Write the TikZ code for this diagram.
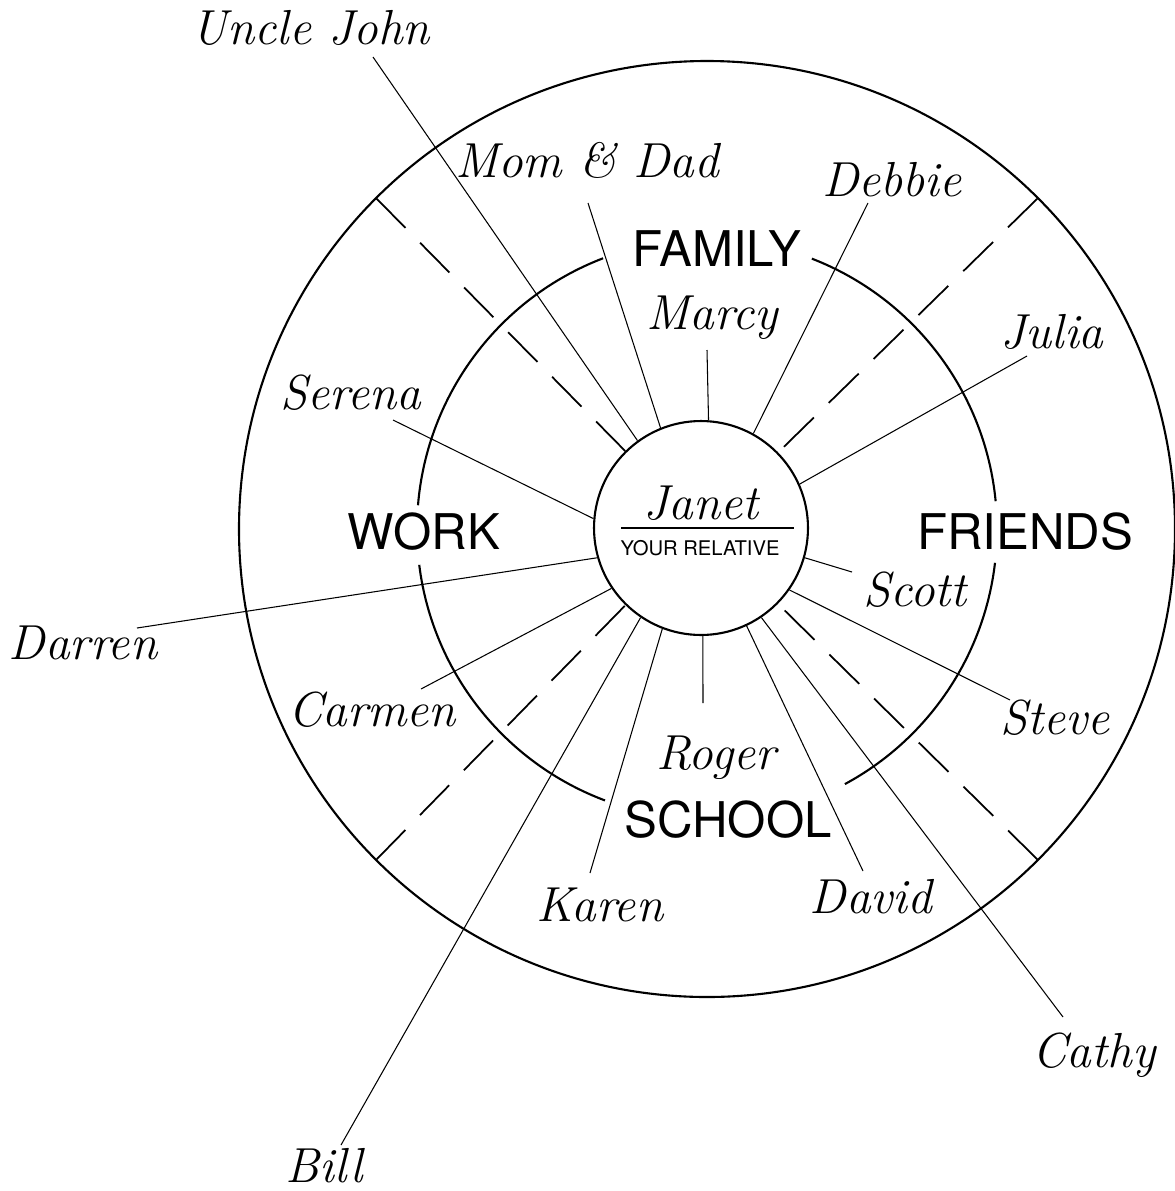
\documentclass[tikz,border=0pt]{standalone}
\usepackage{fontspec}
\newfontfamily\groupfont{TeX Gyre Heros}

\begin{document}
\begin{tikzpicture}[x=0.02cm,y=-0.02cm,
    ring/.style={line width=1.2pt},
    spoke/.style={line width=0.6pt},
    divider/.style={line width=1pt,dash pattern=on 23.8pt off 11.9pt},
    hub/.style={circle,draw,line width=1.2pt,minimum size=4.28cm,inner sep=0pt},
    person/.style={inner sep=0pt,font=\fontsize{28}{30}\selectfont\itshape},
    group/.style={inner sep=0pt,font=\groupfont\fontsize{28}{30}\selectfont}]
    \useasboundingbox (0,0) rectangle (1175,1191);
    \coordinate (ctr) at (707,529);
    % rings
    \draw[ring] (ctr) circle[radius=468];
    \draw[ring] ([shift={(6.7:290)}]ctr) arc[start angle=6.7,end angle=61.6,radius=290];
    \draw[ring] ([shift={(110.6:290)}]ctr) arc[start angle=110.6,end angle=172.9,radius=290];
    \draw[ring] ([shift={(184.7:290)}]ctr) arc[start angle=184.7,end angle=249,radius=290];
    \draw[ring] ([shift={(291.2:290)}]ctr) arc[start angle=291.2,end angle=354.5,radius=290];
    % centre
    \node[hub] (hub) at (701,528) {};
    \node[person] (janet) at (701,503) {Janet};
    \draw[line width=1.5pt] (621,528) -- (794,528);
    \node[inner sep=0pt,font=\groupfont\fontsize{11.5}{13}\selectfont] (relation) at (700,548.5) {YOUR RELATIVE};
    % sectors
    \node[group] (family) at (717,249) {FAMILY};
    \node[group] (work) at (424,531.5) {WORK};
    \node[group] (friends) at (1025,531.5) {FRIENDS};
    \node[group] (school) at (728,820) {SCHOOL};
    \draw[divider] ([shift={(45:468)}]ctr) -- (hub);
    \draw[divider] ([shift={(135:468)}]ctr) -- (hub);
    \draw[divider] ([shift={(225:468)}]ctr) -- (hub);
    \draw[divider] ([shift={(315:468)}]ctr) -- (hub);
    % family
    \node[person] (unclejohn) at (311,28) {Uncle John};
    \coordinate (unclejohn-end) at (373,57);
    \draw[spoke] (hub.126) -- (unclejohn-end);
    \node[person] (momdad) at (587,160) {Mom \& Dad};
    \coordinate (momdad-end) at (588,203);
    \draw[spoke] (hub.112.3) -- (momdad-end);
    \node[person] (marcy) at (712,318) {Marcy};
    \coordinate (marcy-end) at (707,350);
    \draw[spoke] (hub.86.8) -- (marcy-end);
    % friends
    \node[person] (debbie) at (892,180) {Debbie};
    \coordinate (debbie-end) at (868,203);
    \draw[spoke] (hub.61) -- (debbie-end);
    \node[person] (julia) at (1052,332) {Julia};
    \coordinate (julia-end) at (1027,356);
    \draw[spoke] (hub.24.7) -- (julia-end);
    \node[person] (scott) at (915,590) {Scott};
    \coordinate (scott-end) at (852,572);
    \draw[spoke] (hub.344.7) -- (scott-end);
    \node[person] (steve) at (1055,718) {Steve};
    \coordinate (steve-end) at (1010,700);
    \draw[spoke] (hub.325.7) -- (steve-end);
    % work
    \node[person] (serena) at (351,393) {Serena};
    \coordinate (serena-end) at (393,420);
    \draw[spoke] (hub.175.2) -- (serena-end);
    \node[person] (darren) at (83,643) {Darren};
    \coordinate (darren-end) at (137,628);
    \draw[spoke] (hub.196) -- (darren-end);
    \node[person] (carmen) at (372,710) {Carmen};
    \coordinate (carmen-end) at (421,689);
    \draw[spoke] (hub.214.4) -- (carmen-end);
    % school
    \node[person] (bill) at (324,1166) {Bill};
    \coordinate (bill-end) at (341,1145);
    \draw[spoke] (hub.236.8) -- (bill-end);
    \node[person] (karen) at (600,905) {Karen};
    \coordinate (karen-end) at (590,873);
    \draw[spoke] (hub.249.2) -- (karen-end);
    \node[person] (roger) at (716,758) {Roger};
    \coordinate (roger-end) at (703,703);
    \draw[spoke] (hub.271) -- (roger-end);
    \node[person] (david) at (871,897) {David};
    \coordinate (david-end) at (863,871);
    \draw[spoke] (hub.295.4) -- (david-end);
    \node[person] (cathy) at (1094,1055) {Cathy};
    \coordinate (cathy-end) at (1063,1017);
    \draw[spoke] (hub.304.2) -- (cathy-end);
\end{tikzpicture}
\end{document}
